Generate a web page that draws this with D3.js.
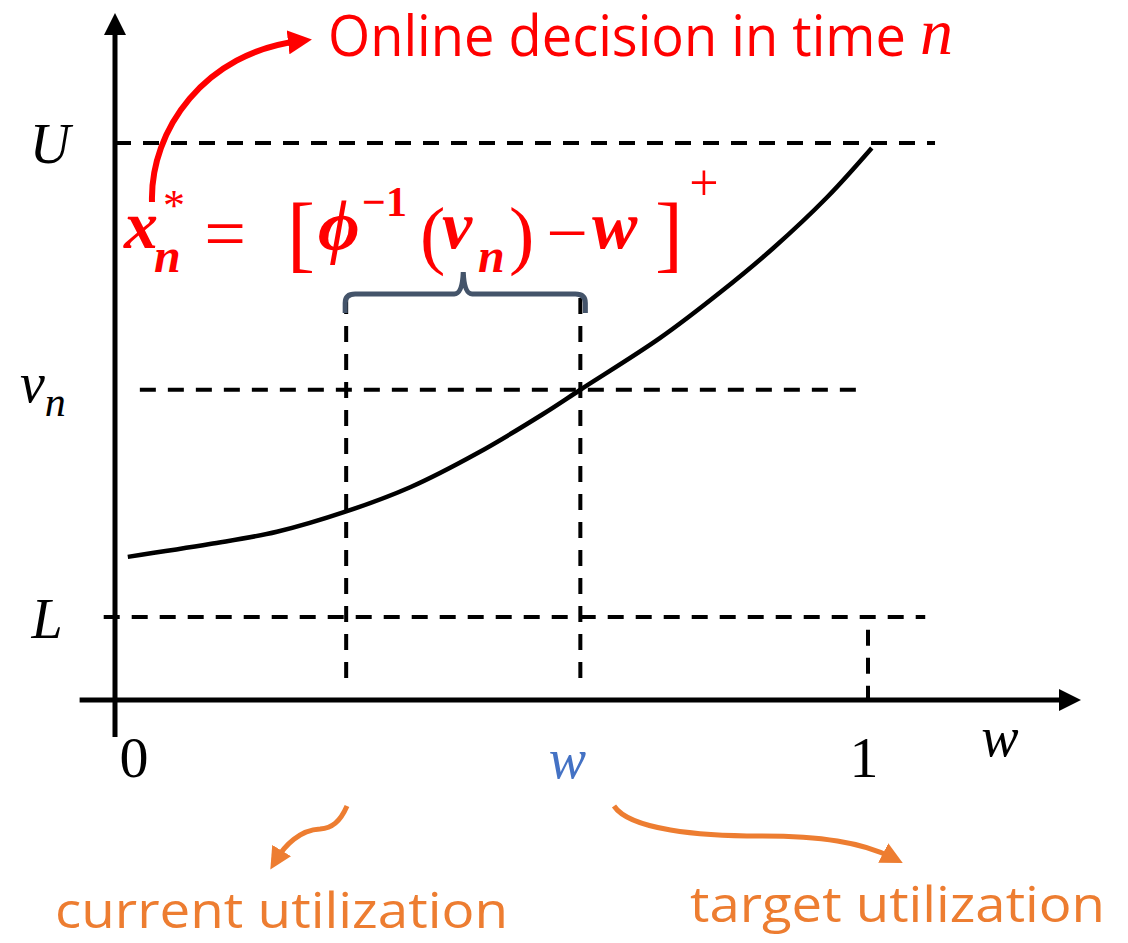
<!DOCTYPE html>
<html>
<head>
<meta charset="utf-8">
<script src="https://cdn.jsdelivr.net/npm/d3@7"></script>
<style>
  html, body { margin: 0; padding: 0; background: #fff; }
  svg { display: block; }
</style>
</head>
<body>
<div id="chart"></div>
<script>
const width = 1128, height = 943;

// curve phi(w)
const curveW = [0.017, 0.126, 0.215, 0.308, 0.392, 0.481, 0.568, 0.618, 0.724, 0.803, 0.874, 0.946, 1.005];
const curveV = [0.257, 0.280, 0.302, 0.339, 0.382, 0.443, 0.513, 0.557, 0.650, 0.731, 0.811, 0.903, 0.991];

const levels = { U: 1, vn: 0.557, L: 0.149 };
const wMarks = { current: 0.307, target: 0.618, one: 1 };

const xTickLabels = ["0", "1"];

const svg = d3.select("#chart")
  .append("svg")
  .attr("width", width)
  .attr("height", height);

const x = d3.scaleLinear().domain([0, 1]).range([115, 868]);
const y = d3.scaleLinear().domain([0, 1]).range([700, 143]);

const defs = svg.append("defs");
function marker(id, color, w, h) {
  defs.append("marker")
    .attr("id", id)
    .attr("viewBox", "0 0 10 10")
    .attr("refX", 5).attr("refY", 5)
    .attr("markerUnits", "userSpaceOnUse")
    .attr("markerWidth", w).attr("markerHeight", h)
    .attr("orient", "auto")
    .append("path")
    .attr("d", "M0,0 L10,5 L0,10 Z")
    .attr("fill", color);
}
marker("arrowBlack", "#000", 22, 22);
marker("arrowRed", "#ff0000", 24, 24);
marker("arrowOrange", "#ed7d31", 22, 22);

const serif = "'Liberation Serif', 'DejaVu Serif', serif";
const sans = "'Open Sans', 'Noto Sans', sans-serif";

// dashed guides
const dash = "16,12";
const guides = svg.append("g")
  .attr("stroke", "#000")
  .attr("stroke-width", 4)
  .attr("stroke-dasharray", dash)
  .attr("fill", "none");

guides.append("line")
  .attr("x1", x(0)).attr("x2", x(1.089))
  .attr("y1", y(levels.U)).attr("y2", y(levels.U));
guides.append("line")
  .attr("x1", x(0.033)).attr("x2", x(0.986))
  .attr("y1", y(levels.vn)).attr("y2", y(levels.vn));
guides.append("line")
  .attr("x1", x(-0.015)).attr("x2", x(1.076))
  .attr("y1", y(levels.L)).attr("y2", y(levels.L));
guides.append("line")
  .attr("x1", x(wMarks.current)).attr("x2", x(wMarks.current))
  .attr("y1", 298).attr("y2", y(0.027));
guides.append("line")
  .attr("x1", x(wMarks.target)).attr("x2", x(wMarks.target))
  .attr("y1", 298).attr("y2", y(0.022));
guides.append("line")
  .attr("x1", x(wMarks.one)).attr("x2", x(wMarks.one))
  .attr("y1", y(0.126)).attr("y2", y(0));

// axes
svg.append("line")
  .attr("x1", x(-0.047)).attr("x2", 1070)
  .attr("y1", y(0)).attr("y2", y(0))
  .attr("stroke", "#000").attr("stroke-width", 5)
  .attr("marker-end", "url(#arrowBlack)");
svg.append("line")
  .attr("x1", x(0)).attr("x2", x(0))
  .attr("y1", 737).attr("y2", 24)
  .attr("stroke", "#000").attr("stroke-width", 5)
  .attr("marker-end", "url(#arrowBlack)");

// phi curve
const line = d3.line()
  .x((d, i) => x(curveW[i]))
  .y(d => y(d))
  .curve(d3.curveCatmullRom.alpha(0.5));

svg.append("path")
  .datum(curveV)
  .attr("fill", "none")
  .attr("stroke", "#000")
  .attr("stroke-width", 4.5)
  .attr("d", line);

// brace over [current, target]
const bx0 = x(wMarks.current) - 1, bx1 = x(wMarks.target) + 5, bm = (bx0 + bx1) / 2 - 2;
svg.append("path")
  .attr("d", `M${bx0},313 L${bx0},303 Q${bx0},294 ${bx0 + 10},294 L${bm - 9},294 Q${bm - 1},294 ${bm},272 Q${bm + 1},294 ${bm + 9},294 L${bx1 - 10},294 Q${bx1},294 ${bx1},303 L${bx1},313`)
  .attr("fill", "none")
  .attr("stroke", "#44546a")
  .attr("stroke-width", 5);

// axis labels
const lab = svg.append("g").attr("font-family", serif).attr("font-size", 56);
lab.append("text").attr("x", 50).attr("y", y(levels.U) + 20)
  .attr("text-anchor", "middle").attr("font-style", "italic").text("U");
const vn = lab.append("text").attr("x", 20).attr("y", y(levels.vn) + 12).attr("font-style", "italic");
vn.append("tspan").text("v");
vn.append("tspan").attr("font-size", 42).attr("dy", 14).text("n");
lab.append("text").attr("x", 47).attr("y", y(levels.L) + 21)
  .attr("text-anchor", "middle").attr("font-style", "italic").text("L");

lab.selectAll(".tick")
  .data(xTickLabels)
  .join("text")
  .attr("x", (d, i) => x(i) + (i === 0 ? 19 : -4))
  .attr("y", 777)
  .attr("text-anchor", "middle")
  .attr("font-size", 58)
  .text(d => d);

lab.append("text").attr("x", x(wMarks.target) - 13).attr("y", 778)
  .attr("text-anchor", "middle").attr("font-style", "italic")
  .attr("fill", "#4472c4").text("w");
lab.append("text").attr("x", 1000).attr("y", 756)
  .attr("text-anchor", "middle").attr("font-style", "italic").text("w");

// formula
const red = "#ff0000";
const f = svg.append("g")
  .attr("fill", red)
  .attr("font-family", serif)
  .attr("font-weight", "bold")
  .attr("font-size", 68);

function put(t, px, py, opts = {}) {
  const el = f.append("text").attr("x", px).attr("y", py).text(t);
  if (opts.italic) el.attr("font-style", "italic");
  if (opts.size) el.attr("font-size", opts.size);
  if (opts.weight) el.attr("font-weight", opts.weight);
  if (opts.anchor) el.attr("text-anchor", opts.anchor);
  return el;
}
put("x", 124, 248, { italic: true });
put("*", 163, 220, { size: 44, weight: "normal" });
put("n", 154, 272, { italic: true, size: 48 });
put("=", 225, 258, { weight: "normal", anchor: "middle", size: 74 });
put("[", 287, 262, { weight: "normal", size: 84 });
put("\u03d5", 318, 250, { italic: true, size: 72 });
put("\u22121", 362, 216, { size: 42 });
put("(", 420, 260, { weight: "normal", size: 76 });
put("v", 442, 248, { italic: true });
put("n", 478, 272, { italic: true, size: 48 });
put(")", 509, 260, { weight: "normal", size: 76 });
put("\u2212", 567, 258, { weight: "normal", anchor: "middle", size: 74 });
put("w", 592, 248, { italic: true });
put("]", 655, 262, { weight: "normal", size: 84 });
put("+", 704, 200, { weight: "normal", size: 52, anchor: "middle" });

// red annotation arrow + caption
svg.append("path")
  .attr("d", "M152,202 C150,130 205,52 300,41")
  .attr("fill", "none")
  .attr("stroke", red)
  .attr("stroke-width", 6)
  .attr("marker-end", "url(#arrowRed)");

svg.append("text")
  .attr("x", 328).attr("y", 56)
  .attr("fill", red)
  .attr("font-family", sans)
  .attr("font-size", 56)
  .attr("textLength", 578).attr("lengthAdjust", "spacingAndGlyphs")
  .text("Online decision in time");
svg.append("text")
  .attr("x", 920).attr("y", 54)
  .attr("fill", red)
  .attr("font-family", serif).attr("font-style", "italic")
  .attr("font-size", 66).text("n");

// orange arrows + captions
const orange = "#ed7d31";
svg.append("path")
  .attr("d", "M347,806 C340,822 332,828 320,829 C300,830 285,845 276,860")
  .attr("fill", "none").attr("stroke", orange).attr("stroke-width", 5)
  .attr("marker-end", "url(#arrowOrange)");
svg.append("path")
  .attr("d", "M614,806 C630,830 700,836 760,836 C820,836 862,842 893,858")
  .attr("fill", "none").attr("stroke", orange).attr("stroke-width", 5)
  .attr("marker-end", "url(#arrowOrange)");

svg.append("text")
  .attr("x", 55).attr("y", 928)
  .attr("fill", orange).attr("font-family", sans).attr("font-size", 50)
  .attr("textLength", 453).attr("lengthAdjust", "spacingAndGlyphs")
  .text("current utilization");
svg.append("text")
  .attr("x", 690).attr("y", 922)
  .attr("fill", orange).attr("font-family", sans).attr("font-size", 50)
  .attr("textLength", 415).attr("lengthAdjust", "spacingAndGlyphs")
  .text("target utilization");
</script>
</body>
</html>
